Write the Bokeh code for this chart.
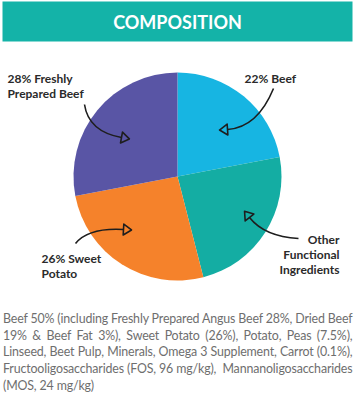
import numpy as np
from bokeh.plotting import figure
from bokeh.models import Range1d, Div
from bokeh.layouts import column
from bokeh.core.properties import value
from bokeh.embed import file_html
from bokeh.resources import INLINE

# ---- data ----
title = "COMPOSITION"
categories = ["22% Beef", "Other\nFunctional\nIngredients", "26% Sweet\nPotato", "28% Freshly\nPrepared Beef"]
shares = [22, 24, 26, 28]
colors = ["#17b5e2", "#14ada3", "#f5822b", "#5955a5"]
paragraph_lines = [
    "Beef 50% (including Freshly Prepared Angus Beef 28%, Dried Beef",
    "19% &amp; Beef Fat 3%), Sweet Potato (26%), Potato, Peas (7.5%),",
    "Linseed, Beet Pulp, Minerals, Omega 3 Supplement, Carrot (0.1%),",
    "Fructooligosaccharides (FOS, 96 mg/kg),&nbsp; Mannanoligosaccharides",
    "(MOS, 24 mg/kg)",
]

# ---- layout (screen coords, y down) ----
W, H = 355, 308
def Y(y):
    return H - y

cx, cy, R = 177, 176, 104
label_pos = [(244, 70, "left"), (339, 231, "right"), (41, 250, "left"), (7, 70, "left")]
# arrows: start, control, end (screen coords)
arrows = [
    ((273, 88), (257, 127), (227, 129)),
    ((298, 238), (264, 236), (249, 217)),
    ((75, 243), (88, 227), (123, 229)),
    ((84, 104), (88, 131), (121, 137)),
]

p = figure(width=W, height=H, x_range=Range1d(0, W), y_range=Range1d(0, H),
           output_backend="svg", toolbar_location=None, min_border=0)
p.axis.visible = False
p.grid.visible = False
p.outline_line_color = None
p.background_fill_color = "white"
p.border_fill_color = "white"

# header band
p.quad(left=2, right=352, bottom=Y(41), top=Y(1), fill_color="#14b3a8", line_color=None)
p.text(x=[177], y=[Y(21)], text=[title], text_align="center", text_baseline="middle",
       text_color="white", text_font=value("Lato"), text_font_style="bold",
       text_font_size="18px")

# pie
frac = np.array(shares, dtype=float) / sum(shares)
cum = np.concatenate([[0], np.cumsum(frac)])
start = 90 - cum[:-1] * 360
end = 90 - cum[1:] * 360
p.wedge(x=cx, y=Y(cy), radius=R, radius_units="screen",
        start_angle=start, end_angle=end, start_angle_units="deg", end_angle_units="deg",
        direction="clock", fill_color=colors, line_color=None)

# labels
for lab, (lx, ly, al) in zip(categories, label_pos):
    p.text(x=[lx], y=[Y(ly)], text=[lab], text_align=al, text_baseline="top",
           text_color="#2a2a2a", text_font=value("Lato"), text_font_style="bold",
           text_font_size="12px", text_line_height=1.0)

# arrows
ink = "#1e1e1e"
for (s, c, e) in arrows:
    p.quadratic(x0=[s[0]], y0=[Y(s[1])], x1=[e[0]], y1=[Y(e[1])], cx=[c[0]], cy=[Y(c[1])],
                line_color=ink, line_width=1.6)
    d = np.array([e[0] - c[0], -(e[1] - c[1])], dtype=float)
    d /= np.linalg.norm(d)
    n = np.array([-d[1], d[0]])
    E = np.array([e[0], Y(e[1])], dtype=float)
    tip = E + d * 8
    b1 = E + n * 5.5
    b2 = E - n * 5.5
    p.patch(x=[b1[0], tip[0], b2[0], b1[0]], y=[b1[1], tip[1], b2[1], b1[1]],
            fill_color=None, line_color=ink, line_width=1.6, line_join="round")

# paragraph
html_lines = []
for i, ln in enumerate(paragraph_lines):
    last = "left" if i == len(paragraph_lines) - 1 else "justify"
    html_lines.append(
        f'<div style="white-space:nowrap;text-align:justify;text-align-last:{last};">{ln}</div>')
div = Div(text="".join(html_lines), width=349, height=86, margin=(3, 3, 0, 3),
          styles={"font-family": "Lato", "font-size": "12.4px", "line-height": "16.7px",
                  "color": "#6e6e6e", "width": "349px", "letter-spacing": "-0.15px"})

layout = column(p, div, spacing=0)
open("out.html", "w").write(file_html(layout, INLINE))
